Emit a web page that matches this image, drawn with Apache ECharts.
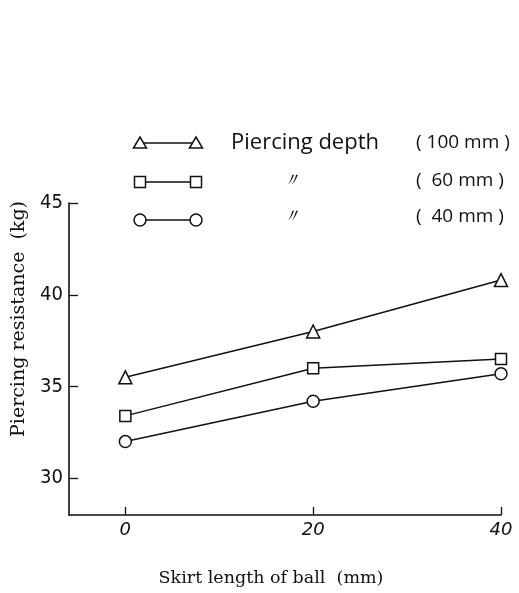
<!DOCTYPE html>
<html>
<head>
<meta charset="utf-8">
<script src="https://cdn.jsdelivr.net/npm/echarts@6/dist/echarts.min.js"></script>
<style>
  html, body { margin: 0; padding: 0; background: #fff; }
  #chart { width: 519px; height: 593px; }
</style>
</head>
<body>
<div id="chart"></div>
<script>
// Skirt length of ball (mm)
const skirtLength = [0, 20, 40];
// Piercing resistance (kg) by piercing depth
const depth100 = [35.5, 38.0, 40.8];
const depth60 = [33.4, 36.0, 36.5];
const depth40 = [32.0, 34.2, 35.7];
const xTicks = [0, 20, 40];
const yTicks = [30, 35, 40, 45];

const seriesDefs = [
  { name: 'Piercing depth (100 mm)', values: depth100, symbol: 'triangle', size: 13 },
  { name: 'Piercing depth (60 mm)', values: depth60, symbol: 'rect', size: 11 },
  { name: 'Piercing depth (40 mm)', values: depth40, symbol: 'circle', size: 12 }
];

const ink = '#111';
const chart = echarts.init(document.getElementById('chart'));

// Hand-drawn style key: a line with a symbol at each end, then the caption
function keyRow(symbol, y, label, labelX, note, textY) {
  const items = [
    { type: 'line', shape: { x1: 140, y1: y, x2: 196, y2: y }, style: { stroke: ink, lineWidth: 1.4 } }
  ];
  [140, 196].forEach(function (cx) {
    if (symbol === 'triangle') {
      items.push({ type: 'polygon', shape: { points: [[cx - 6.5, y + 5], [cx, y - 6], [cx + 6.5, y + 5]] },
        style: { fill: '#fff', stroke: ink, lineWidth: 1.5 } });
    } else if (symbol === 'rect') {
      items.push({ type: 'rect', shape: { x: cx - 5.5, y: y - 5.5, width: 11, height: 11 },
        style: { fill: '#fff', stroke: ink, lineWidth: 1.5 } });
    } else {
      items.push({ type: 'circle', shape: { cx: cx, cy: y, r: 6 },
        style: { fill: '#fff', stroke: ink, lineWidth: 1.5 } });
    }
  });
  items.push({ type: 'text', x: labelX, y: textY, style: {
    text: label, fill: ink, font: label === '〃' ? 'italic 19px "DejaVu Sans"' : '22px "Open Sans"',
    verticalAlign: 'middle', textAlign: 'left' } });
  items.push({ type: 'text', x: 416, y: textY, style: {
    text: note, fill: ink, font: '19px "Open Sans"', verticalAlign: 'middle', textAlign: 'left' } });
  return items;
}

const keyItems = []
  .concat(keyRow('triangle', 143, 'Piercing depth', 231, '( 100 mm )', 143))
  .concat(keyRow('rect', 182, '〃', 282, '(  60 mm )', 181))
  .concat(keyRow('circle', 220, '〃', 282, '(  40 mm )', 217));

chart.setOption({
  animation: false,
  backgroundColor: '#fff',
  grid: { left: 69, right: 18, top: 203, bottom: 78, containLabel: false, outerBoundsMode: 'none' },
  xAxis: {
    type: 'value', min: -6, max: 40,
    name: 'Skirt length of ball  (mm)', nameLocation: 'middle', nameGap: 54,
    nameTextStyle: { fontFamily: 'DejaVu Serif', fontSize: 17.5, color: ink, padding: [0, 28, 0, 0] },
    axisLine: { onZero: false, lineStyle: { color: ink, width: 1.6 } },
    axisTick: { show: true, inside: true, length: 8, customValues: xTicks, lineStyle: { color: ink, width: 1.3 } },
    axisLabel: { customValues: xTicks, fontFamily: 'DejaVu Sans', fontStyle: 'italic', fontWeight: 300,
      fontSize: 18, color: ink, margin: 6 },
    splitLine: { show: false }
  },
  yAxis: {
    type: 'value', min: 28, max: 45,
    name: 'Piercing resistance  (kg)', nameLocation: 'middle', nameGap: 40, nameRotate: 90,
    nameTextStyle: { fontFamily: 'DejaVu Serif', fontSize: 19, color: ink, padding: [0, 0, 0, 80] },
    axisLine: { onZero: false, lineStyle: { color: ink, width: 1.6 } },
    axisTick: { show: true, inside: true, length: 9, customValues: yTicks, lineStyle: { color: ink, width: 1.3 } },
    axisLabel: { customValues: yTicks, fontFamily: '"DejaVu Sans Condensed", "Liberation Sans Narrow", "DejaVu Sans", sans-serif',
      fontSize: 20, color: ink, margin: 6 },
    splitLine: { show: false }
  },
  series: seriesDefs.map(function (s) {
    return {
      name: s.name, type: 'line',
      data: skirtLength.map(function (x, i) { return [x, s.values[i]]; }),
      symbol: s.symbol, symbolSize: s.size, showSymbol: true,
      lineStyle: { color: ink, width: 1.5 },
      itemStyle: { color: '#fff', borderColor: ink, borderWidth: 1.5 },
      z: 3
    };
  }),
  graphic: keyItems
});
</script>
</body>
</html>
